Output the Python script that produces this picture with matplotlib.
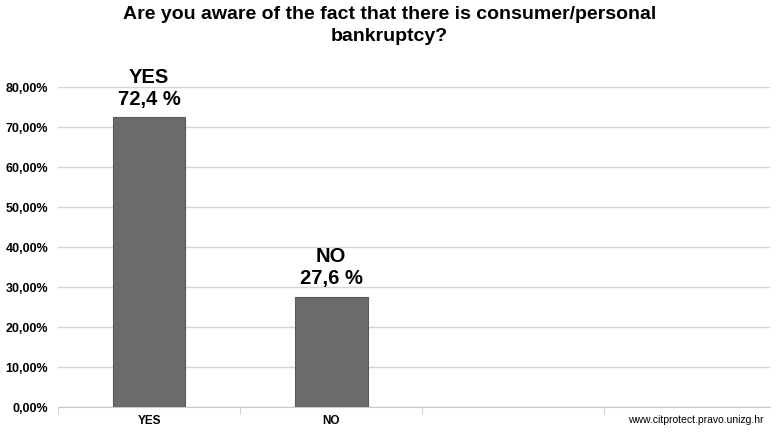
import matplotlib.pyplot as plt
from matplotlib.ticker import FixedLocator

plt.rcParams['font.family'] = ['Liberation Sans', 'DejaVu Sans']

# data
categories = ["YES", "NO", "", "www.citprotect.pravo.unizg.hr"]
bar_names = ["YES", "NO"]
values = [72.4, 27.6]
yticks = [0, 10, 20, 30, 40, 50, 60, 70, 80]

fig = plt.figure(figsize=(7.79, 4.32), dpi=100)
ax = fig.add_axes([58/779, (432-407)/432, (770-58)/779, 320/432])

x = list(range(len(bar_names)))
ax.bar(x, values, width=0.4, color='#6b6b6b', edgecolor='#5a5a5a', linewidth=0.8, zorder=3)

for i in range(len(bar_names)):
    txt = bar_names[i] + "\n" + ("%.1f" % values[i]).replace('.', ',') + " %"
    ax.annotate(txt, (x[i], values[i]), xytext=(0, 6), textcoords='offset points',
                ha='center', va='bottom', fontsize=14.5, fontweight='bold', linespacing=1.2)

ax.set_xlim(-0.5, 3.41)
ax.set_ylim(0, 80)
ax.set_yticks(yticks)
ax.set_yticklabels(["%d,00%%" % t for t in yticks], fontsize=9, fontweight='bold')
ax.grid(axis='y', color='#d4d4d4', linewidth=1, zorder=0)
ax.set_xticks(range(len(categories)))
ax.set_xticklabels(categories, fontweight='bold', fontsize=8.5)
lbls = ax.get_xticklabels()
lbls[3].set_fontweight('normal')
lbls[3].set_fontsize(7.5)
ax.tick_params(axis='x', which='major', length=0, pad=6)
ax.xaxis.set_minor_locator(FixedLocator([-0.5, 0.5, 1.5, 2.5]))
ax.tick_params(axis='x', which='minor', length=5, color='#c8c8c8')
ax.tick_params(axis='y', length=0, pad=7)
for s in ['top', 'right', 'left']:
    ax.spines[s].set_visible(False)
ax.spines['bottom'].set_color('#c8c8c8')

fig.suptitle("Are you aware of the fact that there is consumer/personal\nbankruptcy?",
             x=0.5, y=1 - 6/432, fontsize=14, fontweight='bold', linespacing=1.35)

fig.savefig("out.png", dpi=100)
